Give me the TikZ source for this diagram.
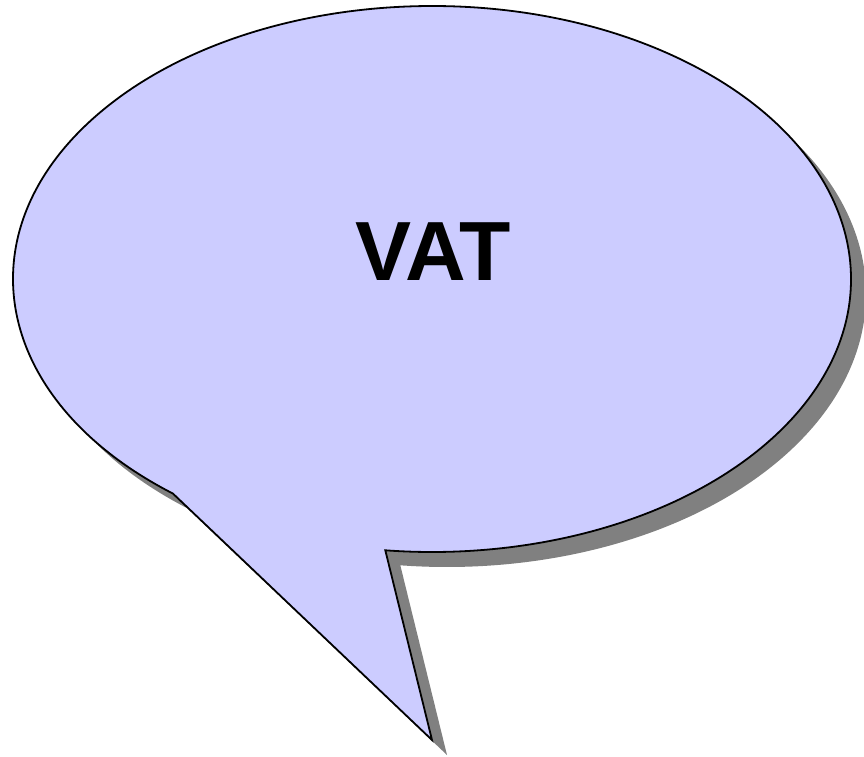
\documentclass[tikz,border=0pt]{standalone}
\usepackage{fontspec}
\setmainfont{Liberation Sans}
\definecolor{bubblefill}{HTML}{CCCCFF}
\definecolor{shadowgray}{HTML}{808080}
\begin{document}
\begin{tikzpicture}[x=1pt,y=1pt,
  bubble/.style={fill=bubblefill,draw=black,line width=1.8pt,line join=miter},
  bubbleshadow/.style={fill=shadowgray,draw=none},
  label/.style={font=\bfseries\fontsize{84}{90}\selectfont,text=black,inner sep=0pt}]
\useasboundingbox (0,0) rectangle (864,-756);
\def\bubblepath{(432,-279) ++(231.8:419 and 273) arc[start angle=231.8,end angle=-96.4,x radius=419,y radius=273] -- (432,-740) -- cycle}
\begin{scope}[shift={(15,-15)}]
\path[bubbleshadow] \bubblepath;
\end{scope}
\path[bubble] \bubblepath;
\node[label] (vat) at (433,-252) {VAT};
\end{tikzpicture}
\end{document}
